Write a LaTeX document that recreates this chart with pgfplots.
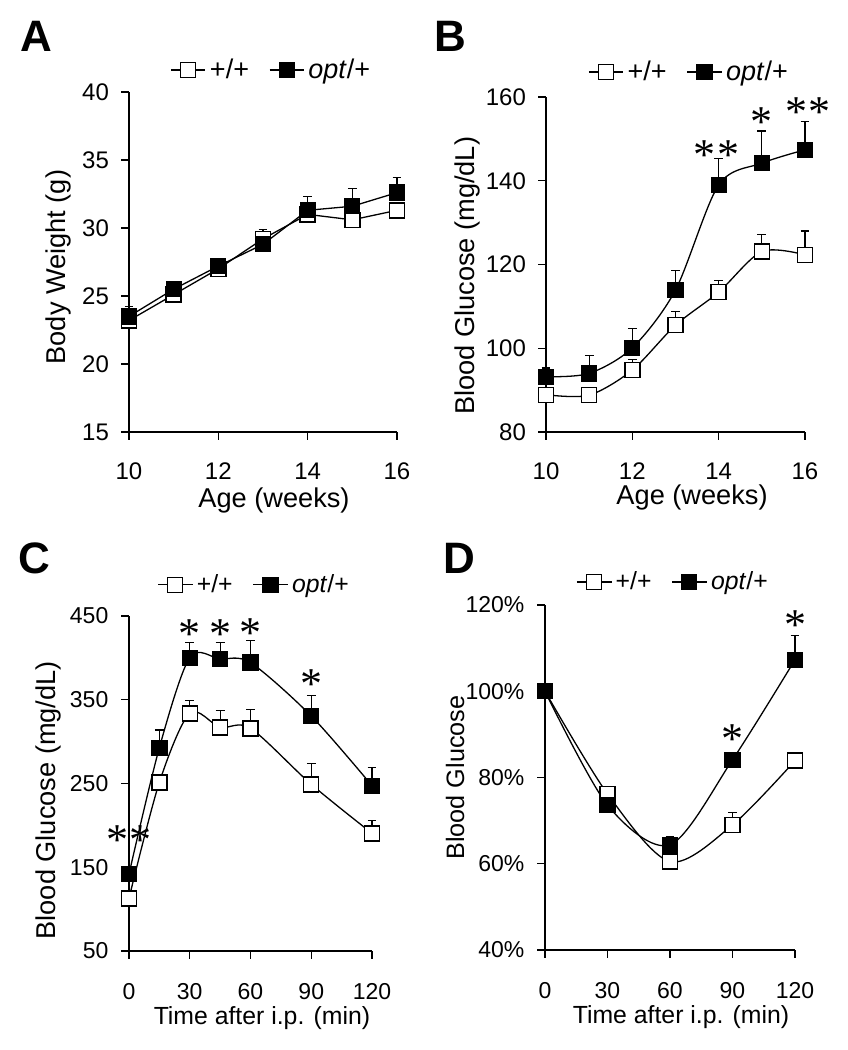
\documentclass[border=0pt]{standalone}
\usepackage{fontspec}
\setmainfont{Liberation Sans}
\newfontfamily\astfont{Liberation Serif}
\usepackage{pgfplots}
\pgfplotsset{compat=1.18}

\pgfplotsset{
  panel/.style={
    scale only axis, anchor=south west,
    axis x line*=bottom, axis y line*=left,
    axis line style={line width=0.6pt},
    tick align=outside, major tick length=4pt,
    tick style={line width=0.6pt, black},
    enlargelimits=false, clip=false,
    ticklabel style={font=\fontsize{12}{12}\selectfont},
    /pgf/number format/assume math mode=true,
    xticklabel shift=8pt, yticklabel shift=2.5pt,
    label style={font=\fontsize{13.6}{14}\selectfont},
    legend columns=2,
    legend style={draw=none, fill=none, anchor=center,
      font=\fontsize{13.5}{14}\selectfont,
      /tikz/every even column/.append style={column sep=8pt}},
    error bars/y dir=plus, error bars/y explicit,
    error bars/error mark options={rotate=90, mark size=2.2pt, line width=0.6pt},
    error bars/error bar style={line width=0.6pt},
  },
  % lower panels are set a little smaller
  small/.style={
    ticklabel style={font=\fontsize{11.5}{12}\selectfont},
    xticklabel shift=8.5pt, yticklabel shift=2.8pt,
    xlabel style={font=\fontsize{12.4}{13}\selectfont},
    legend style={font=\fontsize{12.4}{13}\selectfont},
  },
  wt/.style={black, line width=0.65pt, mark=square*,
    mark options={fill=white, mark size=3.75pt, line width=0.7pt}},
  op/.style={black, line width=0.65pt, mark=square*,
    mark options={fill=black, mark size=3.75pt}},
}
\tikzset{
  ast/.style={font=\astfont\fontsize{22}{22}\selectfont, inner sep=0pt, anchor=north, yshift=3.9pt},
  letter/.style={font=\bfseries\fontsize{22}{22}\selectfont, inner sep=0pt, anchor=base west},
}

\begin{document}
\begin{tikzpicture}
\path[use as bounding box] (0,0) rectangle (423.5pt,525pt);

% A: body weight
\begin{axis}[panel, at={(64.5pt,309pt)}, width=134pt, height=170pt,
  xmin=10, xmax=16, ymin=15, ymax=40,
  xtick={10,12,14,16}, ytick={15,20,25,30,35,40},
  xlabel={Age (weeks)}, ylabel={Body Weight (g)},
  xlabel style={at={(axis description cs:0.541,-0.2)}, anchor=center},
  ylabel style={at={(axis description cs:-0.265,0.485)}, anchor=center},
  legend style={at={(axis description cs:0.535,1.065)}},
]
\addplot[wt] coordinates {
  (10,23.2) +- (0,0.4) (11,25.1) +- (0,0.3) (12,27.0) +- (0,0.3)
  (13,29.2) +- (0,0.7) (14,31.0) +- (0,0.5) (15,30.6) +- (0,0.5)
  (16,31.3) +- (0,0.5)
};
\addlegendentry{+/+}
\addplot[op] coordinates {
  (10,23.5) +- (0,0.7) (11,25.5) +- (0,0.3) (12,27.2) +- (0,0.3)
  (13,28.8) +- (0,0.3) (14,31.3) +- (0,1.0) (15,31.6) +- (0,1.3)
  (16,32.6) +- (0,1.1)
};
\addlegendentry{\textit{opt}/+}
\end{axis}

% B: blood glucose by age
\begin{axis}[panel, at={(273pt,309pt)}, width=129.5pt, height=167.5pt,
  xmin=10, xmax=16, ymin=80, ymax=160,
  xtick={10,12,14,16}, ytick={80,100,120,140,160},
  xlabel={Age (weeks)}, ylabel={Blood Glucose (mg/dL)},
  xlabel style={at={(axis description cs:0.564,-0.194)}, anchor=center},
  ylabel style={at={(axis description cs:-0.305,0.466)}, anchor=center},
  legend style={at={(axis description cs:0.556,1.075)}},
]
\addplot[wt, smooth] coordinates {
  (10,88.9) +- (0,1.5) (11,88.8) +- (0,1.5) (12,94.8) +- (0,2.6)
  (13,105.5) +- (0,3.2) (14,113.4) +- (0,2.7) (15,123.1) +- (0,4.1)
  (16,122.3) +- (0,5.7)
};
\addlegendentry{+/+}
\addplot[op, smooth] coordinates {
  (10,93.2) +- (0,2.1) (11,94.0) +- (0,4.2) (12,100.1) +- (0,4.6)
  (13,113.9) +- (0,4.6) (14,139.0) +- (0,6.4) (15,144.2) +- (0,7.7)
  (16,147.4) +- (0,6.8)
};
\addlegendentry{\textit{opt}/+}
\node[ast] at (axis cs:13.96,147.8) {*\kern1pt*};
\node[ast] at (axis cs:15.0,155.7) {*};
\node[ast] at (axis cs:16.07,158.1) {*\kern1pt*};
\end{axis}

% C: glucose tolerance
\begin{axis}[panel, small, at={(64.5pt,49.5pt)}, width=121.5pt, height=167.5pt,
  xmin=0, xmax=120, ymin=50, ymax=450,
  xtick={0,30,60,90,120}, ytick={50,150,250,350,450},
  xlabel={Time after i.p. (min)}, ylabel={Blood Glucose (mg/dL)},
  xlabel style={at={(axis description cs:0.547,-0.2)}, anchor=center},
  ylabel style={at={(axis description cs:-0.333,0.45)}, anchor=center},
  legend style={at={(axis description cs:0.519,1.093)}},
]
\addplot[wt, smooth] coordinates {
  (0,112.9) +- (0,0) (15,251.4) +- (0,8) (30,333.8) +- (0,15.1)
  (45,317.1) +- (0,19.9) (60,315.9) +- (0,22.7) (90,249.0) +- (0,25.1)
  (120,190.5) +- (0,15.1)
};
\addlegendentry{+/+}
\addplot[op, smooth] coordinates {
  (0,141.9) +- (0,0) (15,292.8) +- (0,21.1) (30,400.2) +- (0,18.0)
  (45,398.7) +- (0,19.5) (60,394.3) +- (0,26.2) (90,330.6) +- (0,24.3)
  (120,247.4) +- (0,21.5)
};
\addlegendentry{\textit{opt}/+}
\node[ast] at (axis cs:0,191) {*\kern1pt*};
\node[ast] at (axis cs:30,436.5) {*};
\node[ast] at (axis cs:45,436.5) {*};
\node[ast] at (axis cs:60,438) {*};
\node[ast] at (axis cs:90,377.6) {*};
\end{axis}

% D: insulin tolerance
\begin{axis}[panel, small, at={(272.5pt,50pt)}, width=125pt, height=172.5pt,
  xmin=0, xmax=120, ymin=40, ymax=120,
  xtick={0,30,60,90,120}, ytick={40,60,80,100,120},
  yticklabel={\pgfmathprintnumber{\tick}\%},
  xlabel={Time after i.p. (min)}, ylabel={Blood Glucose},
  xlabel style={at={(axis description cs:0.544,-0.194)}, anchor=center},
  ylabel style={at={(axis description cs:-0.36,0.5)}, anchor=center, font=\fontsize{12.6}{13}\selectfont},
  legend style={at={(axis description cs:0.516,1.067)}},
]
\addplot[wt, smooth] coordinates {
  (0,100) +- (0,0) (30,76.2) +- (0,1.7) (60,60.5) +- (0,0)
  (90,69.0) +- (0,2.9) (120,83.9) +- (0,0)
};
\addlegendentry{+/+}
\addplot[op, smooth] coordinates {
  (0,100) +- (0,0) (30,73.6) +- (0,0) (60,64.4) +- (0,1.9)
  (90,84.1) +- (0,1.1) (120,107.3) +- (0,5.6)
};
\addlegendentry{\textit{opt}/+}
\node[ast] at (axis cs:90,90.6) {*};
\node[ast] at (axis cs:120,116.9) {*};
\end{axis}

\node[letter] at (10pt,499.2pt) {A};
\node[letter] at (217pt,499pt) {B};
\node[letter] at (9pt,238.3pt) {C};
\node[letter] at (221.5pt,238.3pt) {D};
\end{tikzpicture}
\end{document}
